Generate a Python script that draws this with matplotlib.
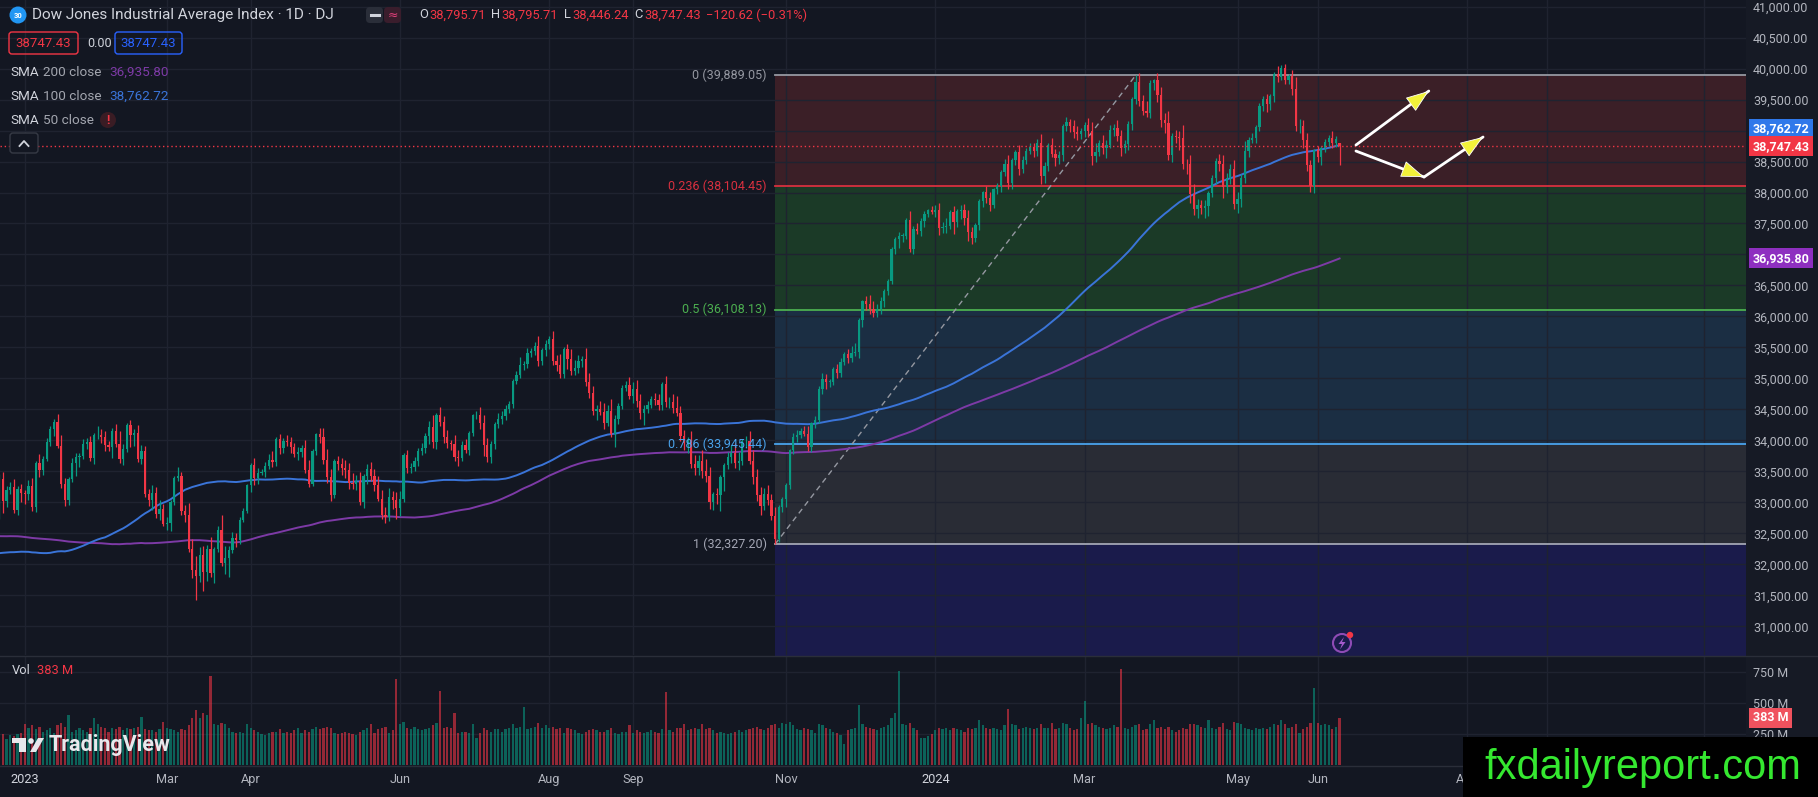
import numpy as np
import pandas as pd
import matplotlib
matplotlib.use('Agg')
import matplotlib.pyplot as plt
import matplotlib.transforms as mtransforms
from matplotlib.patches import Rectangle, Circle, FancyBboxPatch, Polygon
from matplotlib.lines import Line2D

plt.rcParams['font.family'] = ['Roboto', 'DejaVu Sans']

# ---------------- data ----------------
# daily closes Mar 9 2022 .. Dec 20 2022 (only feed the moving averages)
hist_close = [
    33286, 33174, 32944, 32945, 33544, 34063, 34481, 34754, 34553, 34808, 34358, 34708, 34862, 34955, 35294, 35229, 34678,
    34818, 34922, 34641, 34497, 34584, 34721, 34308, 34220, 34565, 34451, 34412, 34911, 35161, 34793, 33811, 34049, 33240, 33302, 34160, 32977,
    33062, 33129, 34061, 32998, 32899, 32246, 32161, 31834, 31730, 32197, 32223, 32655, 31490, 31253, 31262, 31880, 31929, 32120, 32637, 33213, 32990,
    32813, 33248, 32900, 32916, 33180, 32910, 32273, 31393, 30517, 30365, 30669, 29927, 29889, 30530, 30484, 30677, 31501, 31439, 30947, 31029, 30775,
    31097, 30968, 31037, 31385, 31338, 31174, 30982, 30773, 30630, 31288, 31073, 31827, 31875, 32036, 31899, 31990, 31762, 32198, 32530, 32845,
    32798, 32397, 32813, 32727, 32803, 32833, 32775, 33309, 33336, 33761, 33913, 34152, 33981, 33999, 33707, 33064, 32910, 32970, 33292, 32283, 32099, 31791, 31510,
    31657, 31318, 31146, 31581, 31775, 32152, 32381, 31105, 31135, 30962, 30822, 31020, 30706, 30184, 30077, 29590, 29261, 29135, 29684, 29226, 28726,
    29490, 30317, 30274, 29927, 29297, 29203, 29240, 29211, 30039, 29635, 30186, 30524, 30424, 30334, 31083, 31500, 31837, 31839, 32034, 32862, 32733,
    32654, 32148, 32001, 32403, 32827, 33161, 32514, 33716, 33748, 33537, 33593, 33554, 33547, 33746, 33700, 34098, 34194, 34347, 33850, 33853, 34590,
    34395, 34430, 33948, 33597, 33598, 33781, 33477, 34006, 34109, 33966, 33203, 32920, 32758, 32850,
]

# daily closes Dec 21 2022 .. Jun 11 2024 (drawn bars)
closes = [
    33376, 33027, 33204, 33242, 32876, 33221, 33147,
    33136, 33270, 32930, 33631, 33518, 33704, 33973, 34190, 34303, 33911, 33297, 33045, 33375, 33630, 33734, 33744, 33949, 33978, 33717, 34086,
    34093, 34054, 33926, 33891, 34157, 33949, 33700, 33869, 34246, 34089, 34128, 33697, 33827, 33130, 33045, 33154, 32817, 32889, 32657,
    32662, 33004, 33391, 33431, 32856, 32798, 32255, 31910, 31819, 32155, 31875, 32247, 31862, 32245, 32561, 32030, 32105, 32238, 32432, 32394, 32718, 32859, 33274,
    33601, 33402, 33483, 33485, 33587, 33685, 33647, 34030, 33886, 33987, 33977, 33897, 33787, 33809, 33875, 33531, 33302, 33826, 34098,
    34052, 33685, 33414, 33128, 33674, 33619, 33562, 33531, 33310, 33301, 33349, 33012, 33421, 33536, 33427, 33287, 33056, 32800, 32765, 33093, 33043, 32908,
    33062, 33763, 33563, 33573, 33665, 33834, 33877, 34066, 34212, 33979, 34408, 34299, 34054, 33952, 33947, 33727, 33715, 33927, 33853, 34122, 34408,
    34418, 34289, 33922, 33735, 33944, 34261, 34347, 34395, 34509, 34585, 34952, 35061, 35225, 35228, 35411, 35438, 35520, 35283, 35459, 35560,
    35631, 35283, 35216, 35066, 35473, 35314, 35123, 35176, 35281, 35308, 34946, 34766, 34475, 34501, 34464, 34289, 34473, 34099, 34347, 34560, 34853, 34890, 34722,
    34838, 34642, 34443, 34501, 34577, 34664, 34646, 34576, 34907, 34618, 34624, 34518, 34441, 34070, 33964, 34007, 33619, 33550, 33666, 33508,
    33433, 33002, 33130, 33120, 33408, 33605, 33739, 33805, 33631, 33670, 33985, 33998, 33665, 33414, 33127, 32936, 33141, 33036, 32784, 32418, 32929, 33053,
    33275, 33839, 34061, 34096, 34153, 34112, 33892, 34283, 34338, 34828, 34991, 34945, 34947, 35151, 35088, 35273, 35390, 35333, 35417, 35430, 35951,
    36246, 36204, 36125, 36054, 36117, 36248, 36405, 36578, 37090, 37248, 37305, 37306, 37558, 37082, 37404, 37386, 37545, 37657, 37710, 37690,
    37715, 37430, 37440, 37466, 37683, 37525, 37696, 37711, 37593, 37361, 37267, 37469, 37864, 38002, 37905, 37806, 38049, 38109, 38333, 38467, 38150,
    38520, 38654, 38380, 38521, 38677, 38726, 38672, 38797, 38273, 38424, 38773, 38628, 38564, 38612, 39069, 39132, 39069, 38972, 38949, 38996,
    39087, 38990, 38585, 38661, 38791, 38723, 38770, 39005, 39043, 38906, 38715, 38790, 39111, 39512, 39781, 39476, 39314, 39282, 39760, 39807,
    39567, 39170, 39127, 38597, 38904, 38893, 38884, 38462, 38459, 37983, 37735, 37799, 37753, 37775, 37986, 38240, 38504, 38461, 38086, 38240, 38386, 37816,
    37903, 38226, 38676, 38852, 38884, 39056, 39388, 39513, 39432, 39558, 39908, 39869, 40004, 39807, 39873, 39671, 39065, 39070, 38853, 38442, 38111, 38686,
    38571, 38711, 38807, 38886, 38799, 38868, 38747,
]

# upper / lower wick beyond the body, in tens of points
wick_hi = [
    8, 12, 6, 9, 14, 5, 7,
    6, 10, 12, 4, 15, 5, 6, 4, 5, 12, 18, 10, 4, 8, 6, 5, 7, 6, 10, 3,
    14, 9, 10, 6, 5, 11, 20, 7, 4, 9, 6, 12, 10, 9, 8, 12, 10, 15, 8,
    10, 4, 3, 14, 6, 10, 20, 16, 22, 12, 14, 6, 20, 4, 6, 24, 20, 6, 10, 8, 4, 6, 3,
    4, 12, 8, 5, 6, 10, 14, 3, 8, 5, 10, 8, 7, 8, 6, 14, 16, 4, 3,
    10, 15, 18, 13, 3, 8, 10, 12, 10, 16, 9, 14, 4, 8, 12, 12, 14, 15, 12, 14, 10, 12,
    12, 3, 8, 6, 7, 5, 8, 6, 10, 20, 3, 14, 10, 12, 6, 14, 12, 6, 10, 3, 2,
    5, 12, 12, 12, 4, 3, 10, 8, 6, 5, 4, 6, 12, 6, 8, 6, 7, 16, 4, 6,
    5, 14, 9, 18, 4, 8, 16, 12, 10, 5, 18, 14, 12, 7, 14, 14, 10, 20, 6, 4, 5, 7, 14,
    10, 14, 10, 7, 6, 6, 10, 10, 3, 14, 8, 12, 20, 12, 10, 5, 14, 15, 10, 18,
    20, 14, 4, 10, 4, 3, 8, 12, 15, 15, 4, 8, 16, 18, 12, 12, 10, 14, 10, 14, 3, 4,
    4, 3, 6, 8, 5, 8, 12, 2, 6, 5, 9, 8, 4, 3, 8, 6, 4, 8, 10, 15, 2,
    2, 8, 14, 12, 8, 6, 4, 2, 3, 4, 6, 4, 3, 14, 6, 10, 5, 4, 3, 7,
    8, 12, 8, 12, 4, 10, 4, 8, 10, 12, 8, 4, 3, 3, 10, 10, 3, 5, 3, 7, 14,
    3, 3, 12, 6, 4, 8, 8, 6, 15, 6, 3, 10, 8, 6, 3, 8, 6, 10, 10, 5,
    5, 12, 15, 14, 6, 14, 8, 8, 6, 12, 10, 6, 4, 3, 11, 14, 10, 16, 5, 3,
    12, 14, 12, 18, 6, 10, 10, 20, 8, 14, 16, 10, 8, 10, 4, 4, 6, 12, 14, 8, 8, 14,
    10, 8, 15, 4, 7, 4, 5, 4, 8, 3, 3, 14, 5, 7, 4, 10, 20, 12, 10, 10, 8, 2,
    6, 4, 6, 4, 10, 4, 0,
]
wick_lo = [
    12, 20, 10, 6, 5, 8, 14,
    16, 10, 6, 8, 10, 8, 4, 6, 12, 4, 6, 10, 8, 4, 20, 16, 4, 8, 4, 10,
    6, 10, 10, 6, 18, 5, 6, 10, 5, 20, 18, 5, 8, 4, 10, 16, 6, 10, 4,
    10, 12, 4, 5, 6, 12, 6, 12, 39, 10, 30, 14, 6, 16, 4, 6, 18, 30, 5, 12, 6, 4, 3,
    10, 12, 10, 4, 8, 4, 8, 6, 10, 8, 6, 10, 6, 10, 8, 5, 6, 4, 6,
    10, 6, 10, 10, 6, 10, 12, 14, 10, 8, 10, 6, 10, 12, 8, 10, 4, 6, 10, 6, 14, 18,
    12, 6, 8, 8, 6, 8, 6, 8, 12, 10, 12, 6, 10, 8, 10, 6, 12, 5, 6, 8, 5,
    6, 10, 18, 8, 10, 8, 6, 8, 6, 6, 6, 4, 6, 8, 6, 6, 6, 8, 6, 10,
    8, 6, 10, 6, 6, 16, 6, 6, 8, 10, 6, 8, 6, 14, 6, 10, 6, 4, 20, 8, 6, 6, 6,
    12, 10, 10, 20, 6, 6, 8, 8, 8, 8, 10, 8, 4, 8, 12, 16, 6, 10, 10, 12,
    10, 10, 12, 14, 26, 22, 6, 10, 8, 10, 6, 10, 4, 12, 10, 14, 6, 8, 6, 9, 6, 8,
    12, 6, 6, 8, 6, 4, 6, 8, 8, 6, 8, 12, 8, 6, 8, 6, 6, 8, 6, 6, 10,
    12, 10, 8, 6, 6, 8, 10, 6, 6, 8, 14, 10, 6, 4, 8, 6, 8, 10, 6, 4,
    8, 12, 8, 10, 6, 20, 8, 12, 12, 14, 10, 6, 8, 10, 8, 10, 6, 8, 10, 6, 10,
    10, 8, 10, 6, 6, 6, 10, 8, 14, 12, 8, 6, 14, 10, 10, 8, 10, 10, 10, 8,
    10, 10, 14, 10, 8, 10, 16, 6, 10, 8, 12, 8, 10, 10, 8, 8, 6, 6, 8, 10,
    10, 12, 16, 8, 10, 10, 20, 8, 16, 16, 10, 14, 10, 16, 16, 6, 10, 12, 18, 10, 10, 8,
    14, 14, 8, 10, 6, 8, 6, 8, 14, 10, 10, 8, 6, 6, 6, 10, 8, 10, 14, 10, 11, 12,
    8, 12, 6, 6, 8, 6, 30,
]

# volume, millions
volume = [
    290, 250, 210, 240, 230, 250, 260,
    330, 300, 320, 290, 310, 270, 280, 300, 260, 320, 340, 310, 400, 270, 280, 300, 280, 270, 300, 380,
    330, 310, 300, 270, 300, 290, 310, 280, 300, 290, 300, 310, 390, 290, 280, 280, 270, 290, 350,
    300, 290, 280, 270, 290, 280, 320, 380, 440, 380, 420, 400, 715, 330, 320, 340, 330, 300, 270, 260, 270, 260, 330,
    300, 280, 270, 250, 240, 260, 270, 270, 290, 260, 270, 260, 280, 300, 260, 280, 270, 290, 310,
    290, 300, 310, 300, 260, 250, 260, 270, 260, 250, 240, 270, 280, 300, 330, 260, 290, 300, 310, 260, 280, 690,
    330, 350, 300, 290, 310, 290, 280, 290, 300, 320, 340, 600, 300, 310, 300, 420, 260, 270, 270, 260, 330,
    220, 260, 300, 280, 270, 290, 290, 270, 290, 300, 330, 300, 310, 470, 290, 300, 310, 340, 300, 320,
    300, 310, 290, 300, 260, 300, 290, 280, 260, 250, 270, 280, 290, 280, 270, 270, 280, 300, 260, 250, 270, 270, 320,
    260, 280, 270, 260, 270, 280, 270, 260, 290, 590, 280, 270, 300, 300, 330, 280, 290, 300, 290, 330,
    290, 300, 280, 260, 270, 260, 250, 260, 270, 280, 270, 280, 290, 300, 310, 290, 280, 300, 320, 330, 300, 340,
    330, 350, 320, 290, 280, 300, 290, 280, 260, 330, 320, 300, 290, 270, 260, 240, 170, 280, 290, 300, 480,
    330, 310, 300, 290, 280, 300, 310, 320, 380, 420, 755, 330, 320, 340, 300, 280, 220, 220, 230, 250,
    280, 300, 290, 300, 280, 300, 290, 280, 270, 300, 290, 300, 360, 320, 300, 290, 300, 290, 280, 320, 450,
    330, 320, 290, 300, 310, 300, 290, 300, 330, 300, 300, 340, 290, 300, 340, 330, 300, 280, 290, 380,
    520, 330, 340, 320, 310, 300, 290, 300, 320, 310, 776, 300, 290, 310, 320, 330, 280, 290, 330, 360,
    300, 310, 290, 310, 280, 270, 280, 300, 290, 330, 330, 320, 310, 300, 360, 300, 290, 310, 340, 290, 280, 350,
    340, 330, 300, 290, 280, 300, 290, 300, 290, 310, 330, 320, 360, 330, 300, 310, 330, 260, 290, 310, 340, 622,
    340, 320, 330, 320, 290, 310, 383,
]

# last bar as shown in the legend
last_ohlc = [38795.71, 38795.71, 38446.24, 38747.43]

holidays = ['2022-12-26', '2023-01-02', '2023-01-16', '2023-02-20', '2023-04-07', '2023-05-29',
            '2023-06-19', '2023-07-04', '2023-09-04', '2023-11-23', '2023-12-25', '2024-01-01',
            '2024-01-15', '2024-02-19', '2024-03-29', '2024-05-27', '2024-06-19', '2024-07-04',
            '2024-09-02', '2024-11-28']
shown_months = [(2023, 1), (2023, 3), (2023, 4), (2023, 6), (2023, 8), (2023, 9), (2023, 11),
                (2024, 1), (2024, 3), (2024, 5), (2024, 6), (2024, 8), (2024, 9), (2024, 11)]
# grid lines only, their labels sit under the watermark
unlabelled_months = [(2024, 9), (2024, 11)]
month_names = ['Jan', 'Feb', 'Mar', 'Apr', 'May', 'Jun', 'Jul', 'Aug', 'Sep', 'Oct', 'Nov', 'Dec']

# fibonacci retracement drawn from the Oct 27 2023 low to the Mar 21 2024 high
fib_lo_date, fib_lo = '2023-10-27', 32327.20
fib_hi_date, fib_hi = '2024-03-21', 39889.05
fib_ratios = [0, 0.236, 0.5, 0.786, 1, 1.618]
fib_colors = ['#9598a1', '#d8303f', '#4caf50', '#4aa3ec', '#a3a6b4', '#2962ff']
fib_fills = ['#3b1f27', '#1b3a27', '#1b2e43', '#292c35', '#1a1b4b']

# hand drawn arrows: (bars after last bar, price) -> (bars after last bar, price)
arrows = [((4.5, 38766), (24.5, 39637)),
          ((4.5, 38669), (23.2, 38250)),
          ((23.2, 38250), (39.4, 38895))]

sma_labels = [('200', '36,935.80'), ('100', '38,762.72')]

# ---------------- prep ----------------
W, H = 1818, 797
BG = '#131722'
UP, DOWN = '#089981', '#f23645'
BLUE, PURPLE = '#3a74d8', '#7d3aa6'
TXT, GREY = '#d1d4dc', '#b2b5be'

n = len(closes)
axis_dates = pd.bdate_range('2022-12-21', '2024-12-31', freq='C', holidays=holidays)
idx = np.arange(n)

c = np.array(closes, float)
o = np.r_[hist_close[-1], c[:-1]]
o[-1], c[-1] = last_ohlc[0], last_ohlc[3]
h = np.maximum(o, c) + np.array(wick_hi) * 10
l = np.minimum(o, c) - np.array(wick_lo) * 10
h[-1], l[-1] = last_ohlc[1], last_ohlc[2]
up = c >= o

full = pd.Series(np.r_[hist_close, c])
sma100 = full.rolling(100).mean().to_numpy()[-n:]
sma200 = full.rolling(200).mean().to_numpy()[-n:]

def date_idx(d):
    return int(np.searchsorted(axis_dates, pd.Timestamp(d)))

tick_pos, tick_lab = [], []
for yy, mm in shown_months:
    i = int(np.argmax((axis_dates.year == yy) & (axis_dates.month == mm)))
    tick_pos.append(i)
    if (yy, mm) in unlabelled_months:
        tick_lab.append('')
    else:
        tick_lab.append(str(yy) if mm == 1 else month_names[mm - 1])

# ---------------- figure ----------------
fig = plt.figure(figsize=(W / 100, H / 100), dpi=100, facecolor=BG)
pix = mtransforms.Affine2D().scale(1, -1).translate(0, H)

ax = fig.add_axes([0, 1 - 655 / H, 1746 / W, 655 / H], facecolor=BG)
vax = fig.add_axes([0, 1 - 765 / H, 1746 / W, 109 / H], facecolor=BG, sharex=ax)
fig.add_artist(Rectangle((1746, 0), 72, 765, transform=pix, fc='#161a25', ec='none', zorder=-5))

xlim = (0.18, 479.6)
ax.set_xlim(*xlim)
ax.set_ylim(30540, 41105)
vax.set_ylim(0, 879)

for a in (ax, vax):
    for s in a.spines.values():
        s.set_visible(False)
    a.set_axisbelow(True)
    a.grid(True, color='#1f2330', lw=1)
    a.yaxis.tick_right()
    a.tick_params(axis='y', length=0, pad=5, labelsize=9, labelcolor=GREY)
    a.set_xticks(tick_pos)

ax.tick_params(axis='x', length=0, labelbottom=False)
vax.tick_params(axis='x', length=0, pad=6, labelsize=9.2, labelcolor=GREY)
vax.set_xticklabels(tick_lab)
for t in vax.get_xticklabels():
    if t.get_text().isdigit():
        t.set_color(TXT)

yt = np.arange(31000, 41001, 500)
ax.set_yticks(yt)
ax.set_yticklabels([f'{v:,.2f}' for v in yt])
vax.set_yticks([250, 500, 750])
vax.set_yticklabels(['250 M', '500 M', '750 M'])

# fibonacci
i_lo, i_hi = date_idx(fib_lo_date), date_idx(fib_hi_date)
levels = [fib_hi - r * (fib_hi - fib_lo) for r in fib_ratios]
for k, col in enumerate(fib_fills):
    ax.fill_between([i_lo, xlim[1]], levels[k], levels[k + 1], color=col, lw=0, zorder=0.3)
for r, lev, col in zip(fib_ratios[:5], levels[:5], fib_colors[:5]):
    ax.plot([i_lo, xlim[1]], [lev, lev], color=col, lw=1.3, zorder=1.5)
    # round half up like the chart does
    ax.annotate(f'{r:g} ({lev + 1e-6:,.2f})', xy=(i_lo, lev), xytext=(-6, 0), textcoords='offset points',
                ha='right', va='center', color=col, fontsize=9, zorder=6)
ax.plot([i_lo, i_hi], [fib_lo, fib_hi], color='#9598a1', lw=1, ls=(0, (4, 3)), zorder=1.6)

# moving averages
ax.plot(idx, sma200, color=PURPLE, lw=1.4, zorder=2)
ax.plot(idx, sma100, color=BLUE, lw=1.4, zorder=2)

# candles
cols = np.where(up, UP, DOWN)
ax.vlines(idx, l, h, colors=cols, lw=0.9, zorder=3)
body = np.maximum(np.abs(c - o), 8)
ax.bar(idx, body, bottom=np.minimum(o, c), width=0.62, color=cols, lw=0, zorder=3.1)

# volume
vax.bar(idx, volume, width=0.62, color=cols, alpha=0.58, lw=0)

# last price line
ax.axhline(last_ohlc[3], color=DOWN, lw=1, ls=(0, (1, 2)), zorder=4)

# arrows
last = n - 1
for (x0, y0), (x1, y1) in arrows:
    ax.plot([last + x0, last + x1], [y0, y1], color='white', lw=2, solid_capstyle='round', zorder=7)
    xm, ym = last + x1 - 0.3 * (x1 - x0), y1 - 0.3 * (y1 - y0)
    ax.annotate('', xy=(last + x1, y1), xytext=(xm, ym), zorder=8,
                arrowprops=dict(arrowstyle='-|>,head_length=1.5,head_width=0.55',
                                fc='#f2f23a', ec='white', lw=0.6, shrinkA=0, shrinkB=0))

# price axis boxes
def price_box(a, y, s, col, dy=0):
    a.annotate(s, xy=(1.0, y), xycoords=a.get_yaxis_transform(), xytext=(5, dy),
               textcoords='offset points', ha='left', va='center', color='white',
               fontsize=9, fontweight='bold', zorder=20, annotation_clip=False,
               bbox=dict(boxstyle='square,pad=0.28', fc=col, ec='none'))
price_box(ax, 36935.80, '36,935.80', '#8e2fc0')
price_box(ax, 38762.72, '38,762.72', '#2f78ea', dy=12)
price_box(ax, last_ohlc[3], f'{last_ohlc[3]:,.2f}', '#f23645')
price_box(vax, volume[-1], f'{volume[-1]} M', '#f0525e')

# pane separators
fig.add_artist(Line2D([0, W], [655.5, 655.5], transform=pix, color='#2a2e39', lw=1))
fig.add_artist(Line2D([0, W], [765.5, 765.5], transform=pix, color='#2a2e39', lw=1))

# ---------------- legend texts ----------------
renderer = fig.canvas.get_renderer()

def chain(x, y, parts, size, weight='normal'):
    for s, col, gap in parts:
        t = fig.text(x, y, s, transform=pix, color=col, fontsize=size, va='center', ha='left',
                     fontweight=weight)
        x += t.get_window_extent(renderer).width + gap
    return x

fig.add_artist(Circle((18, 15), 8.5, transform=pix, fc='#2196f3', ec='none'))
fig.text(18, 15.5, '30', transform=pix, color='white', fontsize=5.5, fontweight='bold', ha='center', va='center')
chain(32, 15, [('Dow Jones Industrial Average Index · 1D · DJ', TXT, 0)], 11)
fig.add_artist(FancyBboxPatch((366, 7), 17, 16, boxstyle='round,pad=0,rounding_size=4', transform=pix,
                              fc='#2a2e39', ec='none'))
fig.add_artist(Line2D([371, 379], [15, 15], transform=pix, color=TXT, lw=2.2))
fig.add_artist(FancyBboxPatch((384, 7), 17, 16, boxstyle='round,pad=0,rounding_size=4', transform=pix,
                              fc='#3a1d2c', ec='none'))
fig.text(392.5, 15, '≈', transform=pix, color='#e0407a', fontsize=9, ha='center', va='center',
         family='DejaVu Sans')
chain(419, 15, [('O', TXT, 1), ('38,795.71', DOWN, 6), ('H', TXT, 1), ('38,795.71', DOWN, 6),
                ('L', TXT, 1), ('38,446.24', DOWN, 6), ('C', TXT, 1), ('38,747.43', DOWN, 5),
                ('−120.62 (−0.31%)', DOWN, 0)], 9.3)

fig.add_artist(FancyBboxPatch((9, 32), 69, 22, boxstyle='round,pad=0,rounding_size=3', transform=pix,
                              fc='none', ec=DOWN, lw=1))
fig.text(43.5, 43.5, '38747.43', transform=pix, color=DOWN, fontsize=9.5, ha='center', va='center')
fig.text(87, 43.5, '0.00', transform=pix, color=TXT, fontsize=9, ha='left', va='center')
fig.add_artist(FancyBboxPatch((115, 32), 67, 22, boxstyle='round,pad=0,rounding_size=3', transform=pix,
                              fc='none', ec='#2962ff', lw=1))
fig.text(148.5, 43.5, '38747.43', transform=pix, color='#2962ff', fontsize=9.5, ha='center', va='center')

for (length, val), y, col in zip(sma_labels, [72, 96], [PURPLE, BLUE]):
    chain(10, y, [('SMA', TXT, 4), (f'{length} close', '#a3a6af', 8), (val, col, 0)], 9.7)
chain(10, 120, [('SMA', TXT, 4), ('50 close', '#a3a6af', 0)], 9.7)
fig.add_artist(Circle((108, 120), 8, transform=pix, fc='#3a1c24', ec='none'))
fig.text(108, 120.5, '!', transform=pix, color=DOWN, fontsize=9, fontweight='bold', ha='center', va='center')

fig.add_artist(FancyBboxPatch((10, 133), 28, 20, boxstyle='round,pad=0,rounding_size=3', transform=pix,
                              fc=BG, ec='#363a45', lw=1))
fig.add_artist(Line2D([19.5, 24, 28.5], [146, 141, 146], transform=pix, color=TXT, lw=1.3))

chain(12, 671, [('Vol', TXT, 6), (f'{volume[-1]} M', DOWN, 0)], 9.3)

# tradingview mark
fig.add_artist(Rectangle((12, 738), 14, 5, transform=pix, fc='#e8e8ec', ec='none'))
fig.add_artist(Rectangle((19, 738), 7, 14, transform=pix, fc='#e8e8ec', ec='none'))
fig.add_artist(Circle((31, 741), 2.8, transform=pix, fc='#e8e8ec', ec='none'))
fig.add_artist(Polygon([(30, 752), (36, 752), (44, 738), (38, 738)], transform=pix, fc='#e8e8ec', ec='none'))
fig.text(49, 745, 'TradingView', transform=pix, color='#e8e8ec', fontsize=15.5, fontweight='bold',
         ha='left', va='center')

# lightning icon
fig.add_artist(Circle((1342, 643), 9, transform=pix, fc='none', ec='#8e4bb5', lw=1.5))
fig.add_artist(Polygon([(1344, 637), (1338.5, 644), (1342, 644), (1340, 649.5), (1345.5, 642), (1342, 642)],
                       transform=pix, fc='#a55acb', ec='none'))
fig.add_artist(Circle((1350, 635), 3.2, transform=pix, fc='#f23645', ec='none'))

# watermark
fig.add_artist(Rectangle((1463, 737), 355, 60, transform=pix, fc='black', ec='none', zorder=30))
fig.text(1643, 768, 'fxdailyreport.com', transform=pix, color='#35e830', fontsize=30,
         family=['Liberation Sans', 'DejaVu Sans'], ha='center', va='center', zorder=31)

fig.savefig('out.png', dpi=100, facecolor=BG)
